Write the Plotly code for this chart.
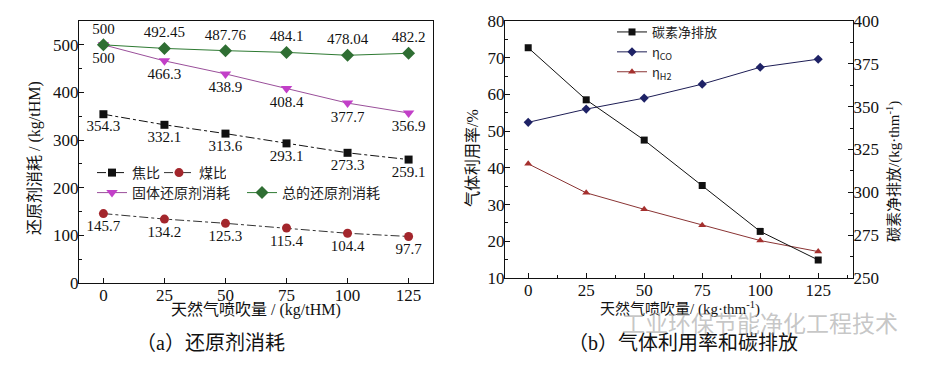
import plotly.graph_objects as go

# ---------------- data ----------------
ng = [0, 25, 50, 75, 100, 125]  # 天然气喷吹量

coke = [354.3, 332.1, 313.6, 293.1, 273.3, 259.1]        # 焦比
coal = [145.7, 134.2, 125.3, 115.4, 104.4, 97.7]         # 煤比
solid = [500, 466.3, 438.9, 408.4, 377.7, 356.9]         # 固体还原剂消耗
total = [500, 492.45, 487.76, 484.1, 478.04, 482.2]      # 总的还原剂消耗

coke_lbl = ["354.3", "332.1", "313.6", "293.1", "273.3", "259.1"]
coal_lbl = ["145.7", "134.2", "125.3", "115.4", "104.4", "97.7"]
solid_lbl = ["500", "466.3", "438.9", "408.4", "377.7", "356.9"]
total_lbl = ["500", "492.45", "487.76", "484.1", "478.04", "482.2"]

carbon = [384.4, 354.0, 330.5, 304.0, 277.2, 260.5]      # 碳素净排放 (right axis)
eta_co = [52.4, 56.0, 59.0, 62.8, 67.4, 69.6]            # ηCO
eta_h2 = [41.1, 33.2, 28.7, 24.4, 20.2, 17.2]            # ηH2

W, H = 931, 365
SERIF = "Liberation Serif, Times New Roman, serif"
CJK = "Noto Sans CJK SC, sans-serif"
MIX = "Liberation Serif, Noto Sans CJK SC, serif"

fig = go.Figure()

lblfont = dict(family=SERIF, size=15, color="#111")

# ---------------- panel (a) ----------------
fig.add_trace(go.Scatter(
    x=ng, y=coke, name="焦比", mode="lines+markers+text",
    text=coke_lbl, textposition="bottom center", textfont=lblfont,
    line=dict(color="#111", width=1, dash="dashdot"),
    marker=dict(symbol="square", size=8, color="#111"),
    xaxis="x", yaxis="y", legend="legend", cliponaxis=False))
fig.add_trace(go.Scatter(
    x=ng, y=coal, name="煤比", mode="lines+markers+text",
    text=coal_lbl, textposition="bottom center", textfont=lblfont,
    line=dict(color="#333", width=1, dash="dashdot"),
    marker=dict(symbol="circle", size=9, color="#a3262c"),
    xaxis="x", yaxis="y", legend="legend", cliponaxis=False))
fig.add_trace(go.Scatter(
    x=ng, y=solid, name="固体还原剂消耗", mode="lines+markers+text",
    text=solid_lbl, textposition="bottom center", textfont=lblfont,
    line=dict(color="#9a4f9a", width=1),
    marker=dict(symbol="triangle-down", size=10, color="#c23fc8"),
    xaxis="x", yaxis="y", legend="legend2", cliponaxis=False))
fig.add_trace(go.Scatter(
    x=ng, y=total, name="总的还原剂消耗", mode="lines+markers+text",
    text=total_lbl, textposition="top center", textfont=lblfont,
    line=dict(color="#2e7a32", width=1),
    marker=dict(symbol="diamond", size=10, color="#2f6e33"),
    xaxis="x", yaxis="y", legend="legend2", cliponaxis=False))

# ---------------- panel (b) ----------------
fig.add_trace(go.Scatter(
    x=ng, y=carbon, name="碳素净排放", mode="lines+markers",
    line=dict(color="#111", width=1),
    marker=dict(symbol="square", size=7, color="#111"),
    xaxis="x2", yaxis="y3", legend="legend3"))
fig.add_trace(go.Scatter(
    x=ng, y=eta_co, name="η<sub>CO</sub>", mode="lines+markers",
    line=dict(color="#1d1d55", width=1),
    marker=dict(symbol="diamond", size=7, color="#1e2266"),
    xaxis="x2", yaxis="y2", legend="legend3"))
fig.add_trace(go.Scatter(
    x=ng, y=eta_h2, name="η<sub>H2</sub>", mode="lines+markers",
    line=dict(color="#8a3434", width=1),
    marker=dict(symbol="triangle-up", size=7, color="#a5302e"),
    xaxis="x2", yaxis="y2", legend="legend3"))

tickfont = dict(family=SERIF, size=17, color="#111")

def ax(**kw):
    d = dict(showgrid=False, zeroline=False, showline=True, linecolor="#111",
             linewidth=1.2, ticks="inside", ticklen=5, tickcolor="#111",
             tickfont=tickfont, automargin=False, ticklabelstandoff=-4)
    d.update(kw)
    return d

xa_dom = [79 / W, 433 / W]
ya_dom = [1 - 283 / H, 1 - 21 / H]
xb_dom = [505 / W, 853 / W]
yb_dom = [1 - 278 / H, 1 - 21 / H]

fig.update_layout(
    width=W, height=H, margin=dict(l=0, r=0, t=0, b=0, autoexpand=False),
    paper_bgcolor="white", plot_bgcolor="white",
    font=dict(family=MIX, color="#111"),
    xaxis=ax(domain=xa_dom, range=[-10, 135], tickvals=[0, 25, 50, 75, 100, 125],
             mirror=True, anchor="y"),
    yaxis=ax(domain=ya_dom, range=[0, 550], tickvals=[0, 100, 200, 300, 400, 500],
             minor=dict(tickvals=[50, 150, 250, 350, 450], ticks="inside", ticklen=3,
                        tickcolor="#111"),
             mirror=True, anchor="x"),
    xaxis2=ax(domain=xb_dom, range=[-10, 140], tickvals=[0, 25, 50, 75, 100, 125],
              minor=dict(tickvals=[12.5, 37.5, 62.5, 87.5, 112.5, 137.5], ticks="inside",
                         ticklen=3, tickcolor="#111"),
              mirror=True, anchor="y2"),
    yaxis2=ax(domain=yb_dom, range=[10, 80], tickvals=[10, 20, 30, 40, 50, 60, 70, 80],
              minor=dict(tickvals=[15, 25, 35, 45, 55, 65, 75], ticks="inside", ticklen=3,
                         tickcolor="#111"),
              anchor="x2"),
    yaxis3=ax(domain=yb_dom, range=[250, 400], tickvals=[250, 275, 300, 325, 350, 375, 400],
              minor=dict(tickvals=[262.5, 287.5, 312.5, 337.5, 362.5, 387.5],
                         ticks="inside", ticklen=3, tickcolor="#111"),
              overlaying="y2", side="right", anchor="x2"),
    legend=dict(orientation="h", x=92 / W, y=1 - 173 / H, xanchor="left", yanchor="middle",
                entrywidth=22, entrywidthmode="pixels", bgcolor="rgba(0,0,0,0)",
                font=dict(family=CJK, size=14, color="#222"), itemclick=False),
    legend2=dict(orientation="h", x=92 / W, y=1 - 193 / H, xanchor="left", yanchor="middle",
                 entrywidth=105, entrywidthmode="pixels", bgcolor="rgba(0,0,0,0)",
                 font=dict(family=CJK, size=14, color="#222"), itemclick=False),
    legend3=dict(orientation="v", x=612 / W, y=1 - 17 / H, xanchor="left", yanchor="top",
                 bgcolor="rgba(0,0,0,0)", tracegroupgap=0,
                 font=dict(family=CJK, size=13, color="#222"), itemclick=False),
)

def ann(text, x, y, size, angle=0, color="#111", family=MIX):
    fig.add_annotation(text=text, x=x / W, y=1 - y / H, xref="paper", yref="paper",
                       showarrow=False, textangle=angle, xanchor="center", yanchor="middle",
                       font=dict(family=family, size=size, color=color))

ann("天然气喷吹量 / (kg/tHM)", 256, 310, 16)
ann("还原剂消耗 / (kg/tHM)", 35, 158, 16, angle=-90)
ann("（a）还原剂消耗", 210, 343, 20)

ann("天然气喷吹量/ (kg·thm<sup>-1</sup>)", 680, 308, 15)
ann("气体利用率/%", 472, 158, 16, angle=-90)
ann("碳素净排放/(kg·thm<sup>-1</sup>)", 893, 172, 15, angle=-90)
ann("（b）气体利用率和碳排放", 683, 343, 20)

ann("工业环保节能净化工程技术", 760, 322, 23, color="rgba(150,150,150,0.55)", family=CJK)

fig.write_html("out.html", config={"displayModeBar": False},
               post_script="document.body.style.margin='0px';")
